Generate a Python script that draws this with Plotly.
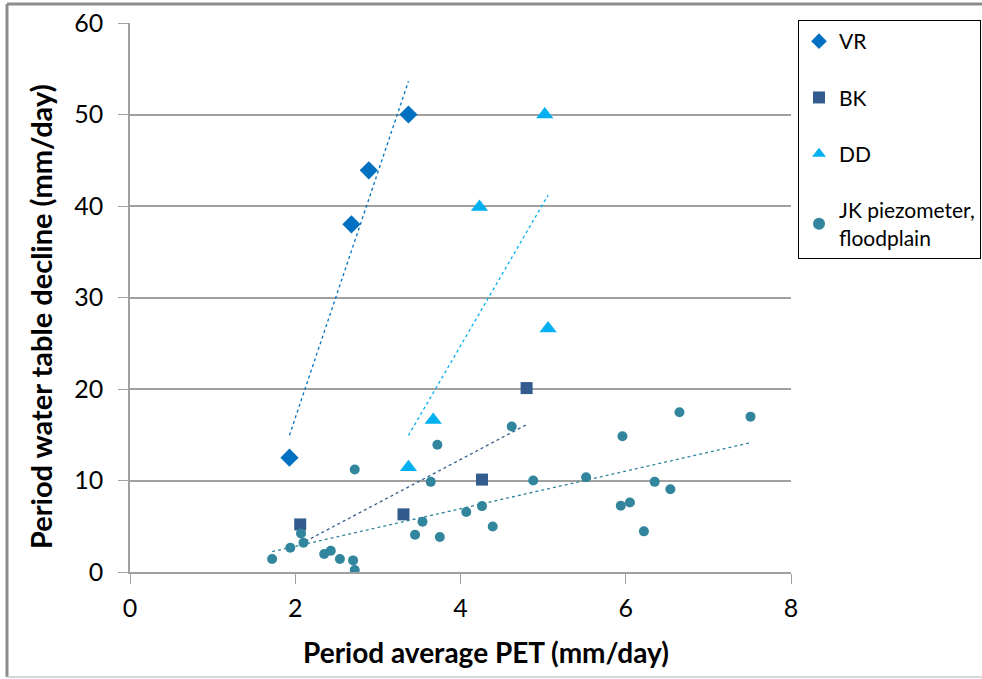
import numpy as np
import plotly.graph_objects as go

# ---- data ----
vr_x = [1.93, 2.68, 2.89, 3.37]
vr_y = [12.5, 38.0, 43.9, 50.0]

bk_x = [2.06, 3.31, 4.26, 4.80]
bk_y = [5.2, 6.3, 10.1, 20.1]

dd_x = [3.37, 3.67, 4.23, 5.02, 5.06]
dd_y = [11.45, 16.6, 39.9, 50.0, 26.6]

jk_x = [4.62, 3.72, 2.72, 3.64, 3.54, 3.45, 3.75, 4.07, 4.26, 4.39,
        2.07, 2.10, 1.94, 1.72, 2.35, 2.43, 2.54, 2.70, 2.72,
        4.88, 5.52, 5.96, 5.94, 6.05, 6.22, 6.35, 6.54, 6.65, 7.51]
jk_y = [15.9, 13.9, 11.2, 9.85, 5.5, 4.07, 3.82, 6.55, 7.2, 4.98,
        4.22, 3.2, 2.65, 1.42, 1.96, 2.33, 1.42, 1.27, 0.22,
        10.0, 10.36, 14.84, 7.24, 7.6, 4.44, 9.85, 9.05, 17.45, 16.98]

x_ticks = [0, 2, 4, 6, 8]
y_ticks = [0, 10, 20, 30, 40, 50, 60]

FONT = "Lato"

series = [
    ("VR", vr_x, vr_y, "#0070C0", "diamond", 14),
    ("BK", bk_x, bk_y, "#335C8E", "square", 12),
    ("DD", dd_x, dd_y, "#00B0F0", "triangle-up", 15),
    ("JK piezometer,<br>floodplain", jk_x, jk_y, "#31859C", "circle", 10),
]

fig = go.Figure()

# trendlines (least squares, spanning each series' x-range)
for name, xs, ys, col, sym, sz in series:
    xs_a = np.array(xs)
    ys_a = np.array(ys)
    m, c = np.polyfit(xs_a, ys_a, 1)
    tx = np.array([xs_a.min(), xs_a.max()])
    fig.add_trace(go.Scatter(x=tx, y=m * tx + c, mode="lines",
                             line=dict(color=col, width=1.3, dash="dot"),
                             showlegend=False, hoverinfo="skip"))

for i, (name, xs, ys, col, sym, sz) in enumerate(series):
    fig.add_trace(go.Scatter(x=xs, y=ys, mode="markers", name=name,
                             legendgroup=f"g{i}",
                             marker=dict(symbol=sym, size=sz, color=col,
                                         line=dict(width=0))))

fig.update_layout(
    width=982, height=679,
    margin=dict(l=130, r=191, t=23, b=107, autoexpand=False),
    paper_bgcolor="white", plot_bgcolor="white",
    font=dict(family=FONT, size=20, color="black"),
    xaxis=dict(range=[0, 8], tickvals=x_ticks, showgrid=False,
               showline=True, linecolor="#A0A0A0", linewidth=1.5,
               ticks="outside", ticklen=10, tickcolor="#A0A0A0",
               tickfont=dict(size=25), zeroline=False,
               ticklabelstandoff=3),
    yaxis=dict(range=[0, 60], tickvals=y_ticks, showgrid=True,
               gridcolor="#A0A0A0", gridwidth=1.5,
               showline=True, linecolor="#A0A0A0", linewidth=1.5,
               ticks="outside", ticklen=10, tickcolor="#A0A0A0",
               tickfont=dict(size=25), zeroline=False,
               ticklabelstandoff=10),
    legend=dict(x=1.0106, y=(572 - 20) / 549, xanchor="left", yanchor="top",
                bordercolor="black", borderwidth=1,
                font=dict(size=21), tracegroupgap=26,
                itemsizing="constant"),
    showlegend=True,
)

fig.add_annotation(text="<b>Period average PET (mm/day)</b>", xref="paper", yref="paper",
                   x=(486 - 130) / 661, y=(572 - 652) / 549, showarrow=False,
                   font=dict(size=28), xanchor="center", yanchor="middle")
fig.add_annotation(text="<b>Period water table decline (mm/day)</b>", xref="paper", yref="paper",
                   x=(41 - 130) / 661, y=(572 - 317) / 549, showarrow=False, textangle=-90,
                   font=dict(size=29), xanchor="center", yanchor="middle")

# outer chart border
fig.add_shape(type="line", xref="paper", yref="paper",
              x0=(7 - 130) / 661, x1=(985 - 130) / 661, y0=(572 - 4) / 549, y1=(572 - 4) / 549,
              line=dict(color="#8C8C8C", width=3))
fig.add_shape(type="line", xref="paper", yref="paper",
              x0=(7 - 130) / 661, x1=(7 - 130) / 661, y0=(572 - 4) / 549, y1=(572 - 677) / 549,
              line=dict(color="#8C8C8C", width=3))
fig.add_shape(type="line", xref="paper", yref="paper",
              x0=(7 - 130) / 661, x1=(985 - 130) / 661, y0=(572 - 677) / 549, y1=(572 - 677) / 549,
              line=dict(color="#C8C8C8", width=1.5))

fig.write_html("out.html")
